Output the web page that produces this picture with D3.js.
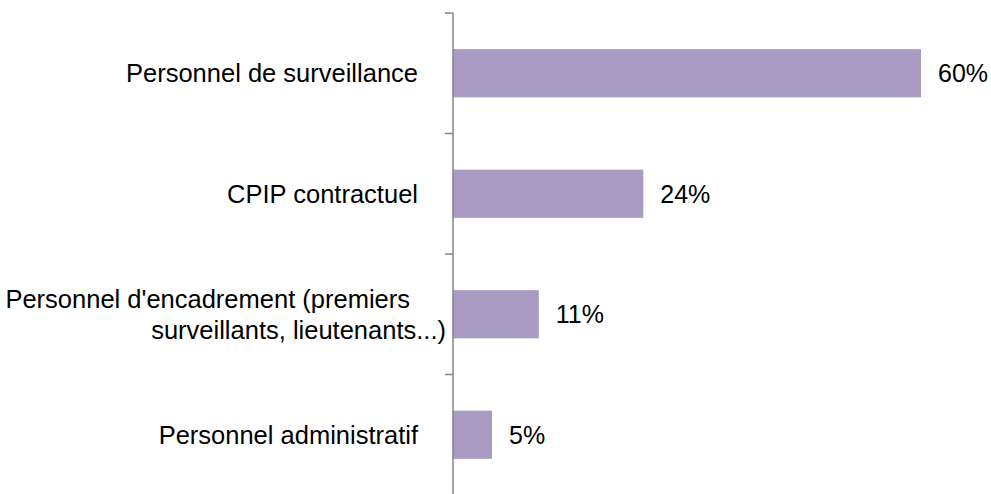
<!DOCTYPE html>
<html>
<head>
<meta charset="utf-8">
<script src="https://cdn.jsdelivr.net/npm/d3@7"></script>
<style>
  body { margin: 0; background: #fff; }
  text { font-family: "Liberation Sans", Arial, sans-serif; }
</style>
</head>
<body>
<svg id="chart" width="991" height="494"></svg>
<script>
// categories (one entry per line of the label) and their values in %
const categories = [
  ["Personnel de surveillance"],
  ["CPIP contractuel"],
  ["Personnel d'encadrement (premiers", "surveillants, lieutenants...)"],
  ["Personnel administratif"]
];
const values = [60, 24.4, 11, 5];

const svg = d3.select("#chart");

const render = () => {
  const margin = { top: 13, right: 40, bottom: 0, left: 453 };
  const innerHeight = 482;
  const fmt = d => Math.round(d) + "%";

  const data = categories.map((c, i) => ({ key: c.join(" "), lines: c, value: values[i] }));

  const xScale = d3.scaleLinear()
    .domain([0, 60])
    .range([0, 468]);

  const yScale = d3.scaleBand()
    .domain(data.map(d => d.key))
    .range([0, innerHeight])
    .paddingInner(0.6)
    .paddingOuter(0.3);

  const g = svg.append("g")
    .attr("transform", `translate(${margin.left}, ${margin.top})`);

  // bars
  g.selectAll("rect")
    .data(data)
    .enter()
    .append("rect")
      .attr("x", 0)
      .attr("y", d => yScale(d.key))
      .attr("width", d => xScale(d.value))
      .attr("height", yScale.bandwidth())
      .attr("fill", "#a99bc4");

  // axis line with tick marks at the band boundaries
  const step = yScale.step();
  const bounds = d3.range(data.length + 1).map(i => i * step);
  g.append("line")
    .attr("x1", 0).attr("x2", 0)
    .attr("y1", 0).attr("y2", innerHeight + 5)
    .attr("stroke", "#868686")
    .attr("stroke-width", 1.5);
  g.selectAll(".tickmark")
    .data(bounds)
    .enter()
    .append("line")
      .attr("class", "tickmark")
      .attr("x1", -8).attr("x2", 0)
      .attr("y1", d => d).attr("y2", d => d)
      .attr("stroke", "#868686")
      .attr("stroke-width", 1.5);

  // category labels
  const lineH = 31;
  const labels = g.selectAll(".cat")
    .data(data)
    .enter()
    .append("text")
      .attr("class", "cat")
      .attr("text-anchor", "end")
      .attr("font-size", "25.5px")
      .attr("fill", "#000")
      .attr("y", d => yScale(d.key) + yScale.bandwidth() / 2 - (d.lines.length - 1) * lineH / 2);
  labels.each(function(d) {
    const multi = d.lines.length > 1;
    d3.select(this).selectAll("tspan")
      .data(d.lines)
      .enter()
      .append("tspan")
        .attr("x", (l, i) => !multi ? -35 : (i === 0 ? -43 : -7))
        .attr("dy", (l, i) => i === 0 ? "0.35em" : lineH)
        .text(l => l);
  });

  // value labels
  g.selectAll(".val")
    .data(data)
    .enter()
    .append("text")
      .attr("class", "val")
      .attr("font-size", "25px")
      .attr("fill", "#000")
      .attr("x", d => xScale(d.value) + 17)
      .attr("y", d => yScale(d.key) + yScale.bandwidth() / 2)
      .attr("dy", "0.35em")
      .text(d => fmt(d.value));
};

render();
</script>
</body>
</html>
